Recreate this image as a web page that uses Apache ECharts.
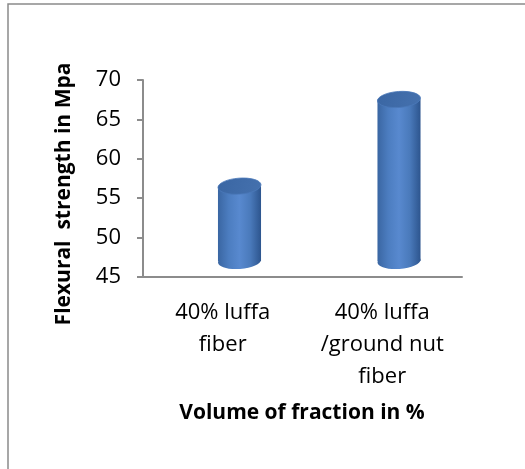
<!DOCTYPE html>
<html>
<head>
<meta charset="utf-8">
<script src="https://cdn.jsdelivr.net/npm/echarts@6/dist/echarts.min.js"></script>
<style>
  html, body { margin: 0; padding: 0; background: #fff; }
  #chart { width: 525px; height: 469px; }
</style>
</head>
<body>
<div id="chart"></div>
<script>
// Flexural strength of the two fibre mixes
const categories = ['40% luffa\nfiber', '40% luffa\n/ground nut\nfiber'];
const strength = [54.5, 65.5];
const yTicks = { min: 45, max: 70, interval: 5 };

const FONT = '"Open Sans", "Noto Sans", sans-serif';

const chart = echarts.init(document.getElementById('chart'), null, { renderer: 'canvas' });

// Cylinder drawn with a small oblique depth offset (up and to the right)
function renderCylinder(params, api) {
  const idx = api.value(0);
  const val = api.value(1);
  const top = api.coord([idx, val]);
  const base = api.coord([idx, yTicks.min]);
  const band = api.size([1, 0])[0];
  const dx = band * 0.105, dy = -16;
  const rx = band * 0.135, ry = 8;
  const cx = top[0] + dx;
  const yT = top[1] + dy;
  const yB = base[1] + dy;
  const tilt = 0.07;

  const bodyFill = new echarts.graphic.LinearGradient(0, 0, 1, 0, [
    { offset: 0, color: '#3a66a2' },
    { offset: 0.25, color: '#4c7dc0' },
    { offset: 0.5, color: '#5889cf' },
    { offset: 0.75, color: '#4a7abb' },
    { offset: 1, color: '#2d558e' }
  ]);
  const topFill = new echarts.graphic.LinearGradient(0, 0, 1, 1, [
    { offset: 0, color: '#3a66a3' },
    { offset: 1, color: '#4571ae' }
  ]);

  return {
    type: 'group',
    children: [
      {
        type: 'ellipse',
        shape: { cx: cx, cy: yB, rx: rx, ry: ry },
        originX: cx, originY: yB, rotation: tilt,
        style: { fill: bodyFill }
      },
      {
        type: 'rect',
        shape: { x: cx - rx, y: yT, width: rx * 2, height: yB - yT },
        style: { fill: bodyFill }
      },
      {
        type: 'ellipse',
        shape: { cx: cx, cy: yT, rx: rx, ry: ry },
        originX: cx, originY: yT, rotation: tilt,
        style: { fill: topFill, stroke: '#4a78b8', lineWidth: 0.8 }
      }
    ]
  };
}

chart.setOption({
  animation: false,
  backgroundColor: '#ffffff',
  graphic: [
    {
      type: 'rect',
      shape: { x: 8, y: 4, width: 700, height: 700 },
      style: { fill: 'none', stroke: '#8a8a8a', lineWidth: 1.5 },
      silent: true
    },
    {
      type: 'text',
      x: 64, y: 194,
      rotation: Math.PI / 2,
      style: {
        text: 'Flexural  strength in Mpa',
        font: 'bold 21px ' + FONT,
        fill: '#000',
        align: 'center',
        verticalAlign: 'middle'
      }
    },
    {
      type: 'text',
      x: 302, y: 413,
      style: {
        text: 'Volume of fraction in %',
        font: 'bold 21px ' + FONT,
        fill: '#000',
        align: 'center',
        verticalAlign: 'middle'
      }
    }
  ],
  grid: { left: 143, top: 80, width: 319, height: 197, containLabel: false },
  xAxis: {
    type: 'category',
    data: categories,
    axisLine: { show: true, lineStyle: { color: '#8c8c8c', width: 2 } },
    axisTick: { show: false },
    axisLabel: {
      interval: 0,
      margin: 20,
      color: '#000',
      fontFamily: FONT,
      fontSize: 22,
      lineHeight: 32
    },
    splitLine: { show: false }
  },
  yAxis: {
    type: 'value',
    min: yTicks.min,
    max: yTicks.max,
    interval: yTicks.interval,
    axisLine: { show: true, lineStyle: { color: '#8c8c8c', width: 2 } },
    axisTick: { show: true, length: 6, lineStyle: { color: '#8c8c8c', width: 2 } },
    axisLabel: { margin: 22, color: '#000', fontFamily: FONT, fontSize: 22 },
    splitLine: { show: false }
  },
  series: [{
    type: 'custom',
    renderItem: renderCylinder,
    data: strength.map((v, i) => [i, v]),
    encode: { x: 0, y: 1 },
    clip: false
  }]
});
</script>
</body>
</html>
